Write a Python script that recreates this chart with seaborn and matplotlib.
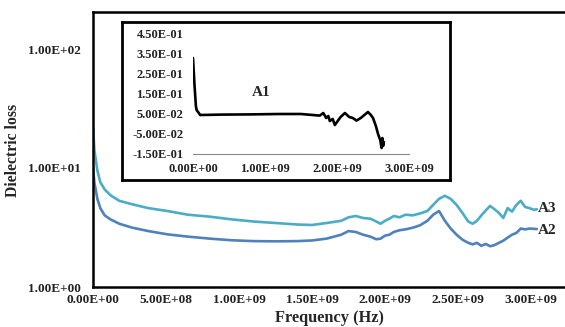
import numpy as np
import pandas as pd
import matplotlib
matplotlib.use("Agg")
import matplotlib.pyplot as plt
import seaborn as sns

# ---------------- data ----------------
freq_main = [0.0, 0.01, 0.03, 0.05, 0.08, 0.12, 0.18, 0.27, 0.38, 0.51, 0.65, 0.8, 0.95,
             1.1, 1.25, 1.4, 1.5, 1.6, 1.7, 1.75, 1.8, 1.85, 1.9, 1.94, 1.97, 2.0, 2.03,
             2.06, 2.1, 2.14, 2.19, 2.24, 2.29, 2.33, 2.37, 2.41, 2.45, 2.49, 2.53, 2.57,
             2.6, 2.63, 2.66, 2.69, 2.72, 2.75, 2.78, 2.81, 2.84, 2.87, 2.9, 2.93, 2.96,
             2.99, 3.02, 3.04]  # x 1e9 Hz
a3_loss = [22, 14, 9.5, 7.6, 6.6, 5.9, 5.3, 4.95, 4.6, 4.35, 4.05, 3.9, 3.7,
           3.55, 3.45, 3.35, 3.32, 3.45, 3.6, 3.85, 3.95, 3.8, 3.75, 3.55, 3.4, 3.6, 3.75,
           3.95, 3.85, 4.05, 4.0, 4.15, 4.35, 4.9, 5.5, 5.85, 5.5, 4.9, 4.2, 3.55,
           3.4, 3.6, 4.0, 4.4, 4.8, 4.5, 4.2, 3.8, 4.6, 4.3, 4.9, 5.3, 4.7,
           4.6, 4.45, 4.5]
a2_loss = [10, 7.5, 5.5, 4.6, 4.0, 3.7, 3.4, 3.15, 2.95, 2.77, 2.65, 2.55, 2.47,
           2.43, 2.42, 2.43, 2.46, 2.55, 2.75, 2.95, 2.9, 2.75, 2.65, 2.52, 2.55, 2.7, 2.75,
           2.9, 3.0, 3.05, 3.15, 3.3, 3.6, 4.05, 4.35, 3.6, 3.1, 2.75, 2.5, 2.35,
           2.28, 2.35, 2.22, 2.3, 2.2, 2.25, 2.35, 2.45, 2.6, 2.75, 2.85, 3.1, 3.05,
           3.1, 3.08, 3.07]

freq_a1 = [0.0, 0.02, 0.04, 0.05, 0.1, 0.4, 0.8, 1.2, 1.5, 1.76, 1.81, 1.85, 1.88, 1.9,
           1.94, 1.97, 2.0, 2.05, 2.11, 2.17, 2.22, 2.27, 2.33, 2.38, 2.43, 2.47, 2.5,
           2.54, 2.57, 2.6, 2.62, 2.63, 2.64, 2.65]  # x 1e9 Hz
a1_loss = [0.33, 0.2, 0.09, 0.07, 0.045, 0.047, 0.048, 0.05, 0.05, 0.042, 0.055, 0.03,
           0.04, 0.015, 0.025, -0.005, 0.01, 0.035, 0.055, 0.035, 0.03, 0.017, 0.03,
           0.045, 0.06, 0.045, 0.03, -0.01, -0.05, -0.08, -0.12, -0.07, -0.11, -0.09]

main_xticks = [0.0, 0.5, 1.0, 1.5, 2.0, 2.5, 3.0]
main_xticklabels = ["0.00E+00", "5.00E+08", "1.00E+09", "1.50E+09", "2.00E+09",
                    "2.50E+09", "3.00E+09"]
main_yticks = [1, 10, 100]
main_yticklabels = ["1.00E+00", "1.00E+01", "1.00E+02"]
inset_xticks = [0.0, 1.0, 2.0, 3.0]
inset_xticklabels = ["0.00E+00", "1.00E+09", "2.00E+09", "3.00E+09"]
inset_yticks = [-0.15, -0.05, 0.05, 0.15, 0.25, 0.35, 0.45]
inset_yticklabels = ["-1.50E-01", "-5.00E-02", "5.00E-02", "1.50E-01", "2.50E-01",
                     "3.50E-01", "4.50E-01"]

df_main = pd.DataFrame({"f": np.array(freq_main) * 1e9, "A3": a3_loss, "A2": a2_loss})
df_a1 = pd.DataFrame({"f": np.array(freq_a1) * 1e9, "A1": a1_loss})

# ---------------- style ----------------
sns.set_style("white")
plt.rcParams["font.family"] = ["Liberation Serif", "DejaVu Serif"]
plt.rcParams["font.weight"] = "bold"

W, H = 565, 327
fig = plt.figure(figsize=(W / 100, H / 100), dpi=100)

def px_rect(x0, y0, x1, y1):
    return [x0 / W, (H - y1) / H, (x1 - x0) / W, (y1 - y0) / H]

# main axes
ax = fig.add_axes(px_rect(93, 12, 565, 287))
sns.lineplot(data=df_main, x="f", y="A3", ax=ax, color="#4BACC6", lw=1.9)
sns.lineplot(data=df_main, x="f", y="A2", ax=ax, color="#4F81BD", lw=1.9)
ax.set_yscale("log")
ax.set_ylim(1, 10 ** (275 / 119))
ax.set_xlim(0, 472 / 146 * 1e9)
ax.set_xticks(np.array(main_xticks) * 1e9)
ax.set_xticklabels(main_xticklabels)
ax.set_yticks(main_yticks)
ax.set_yticklabels(main_yticklabels)
ax.minorticks_off()
ax.tick_params(length=0, labelsize=9.5, labelcolor="#222222")
ax.tick_params(axis="y", pad=9)
ax.tick_params(axis="x", pad=5)
for lab in ax.get_xticklabels() + ax.get_yticklabels():
    lab.set_fontweight("bold")
for s in ["left", "bottom", "top"]:
    ax.spines[s].set_color("black")
    ax.spines[s].set_linewidth(1.8)
ax.spines["right"].set_visible(False)
ax.set_xlabel("Frequency (Hz)", fontsize=11.8, fontweight="bold", labelpad=3)
ax.set_ylabel("Dielectric loss", fontsize=11.3, fontweight="bold")
ax.yaxis.set_label_coords(-0.153, 0.495)
ax.text(3.05e9, 4.55, "A3", fontsize=11, fontweight="bold", va="center", ha="left")
ax.text(3.05e9, 3.0, "A2", fontsize=11, fontweight="bold", va="center", ha="left")

# inset box
box = fig.add_axes(px_rect(122, 22, 450, 180))
box.set_xticks([]); box.set_yticks([])
box.set_facecolor("white")
for s in box.spines.values():
    s.set_color("black"); s.set_linewidth(2.0); s.set_visible(True)

# inset axes
ins = fig.add_axes(px_rect(193, 34, 409, 154))
ins.patch.set_alpha(0)
sns.lineplot(data=df_a1, x="f", y="A1", ax=ins, color="black", lw=1.9)
ins.set_xlim(0, 3e9)
ins.set_ylim(-0.15, 0.45)
ins.set_xticks(np.array(inset_xticks) * 1e9)
ins.set_xticklabels(inset_xticklabels)
ins.set_yticks(inset_yticks)
ins.set_yticklabels(inset_yticklabels)
ins.tick_params(axis="both", length=3, width=0.8, color="#888888", labelsize=9,
                labelcolor="#222222", pad=4)
ins.tick_params(axis="x", direction="inout", length=5)
for lab in ins.get_xticklabels() + ins.get_yticklabels():
    lab.set_fontweight("bold")
for s in ["left", "top", "right"]:
    ins.spines[s].set_visible(False)
ins.spines["bottom"].set_color("#888888")
ins.spines["bottom"].set_linewidth(0.8)
ins.set_xlabel(""); ins.set_ylabel("")
ins.text(0.95e9, 0.16, "A1", fontsize=11, fontweight="bold", ha="center", va="center")

fig.savefig("out.png", dpi=100)
